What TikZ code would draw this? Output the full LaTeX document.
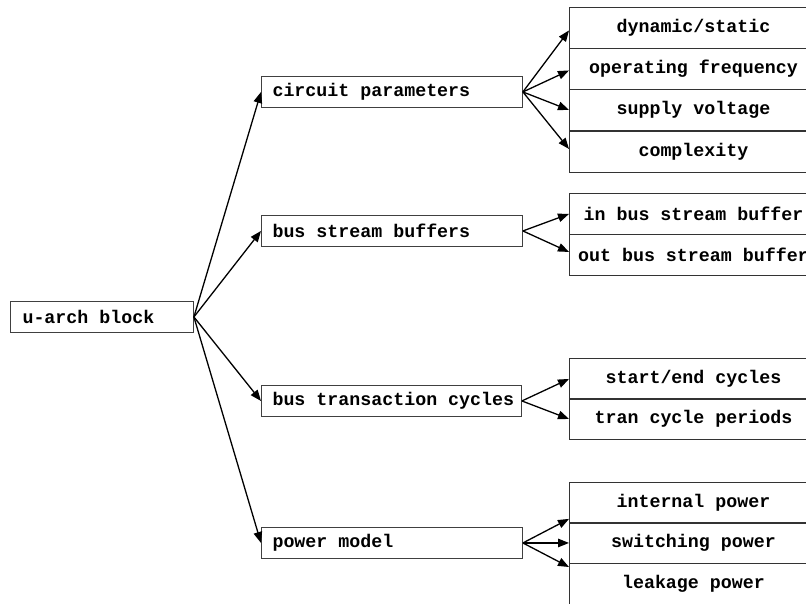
\documentclass[tikz,border=0pt]{standalone}
\usepackage{fontspec}
\setmonofont{Liberation Mono}
\usetikzlibrary{arrows.meta,calc}

\tikzset{
  x=1pt, y=-1pt,
  label font/.style={font=\fontsize{18.3}{20}\selectfont\ttfamily\bfseries},
  leftbox/.style={draw=black!75, line width=0.9pt, anchor=north west,
    minimum height=31pt, inner sep=0pt},
  cell/.style={draw=black!80, line width=0.9pt, label font, anchor=north west,
    minimum width=248pt, minimum height=41pt, inner sep=0pt},
  link/.style={line width=1.3pt, -{Triangle[length=11pt,width=8.5pt]}},
}

\begin{document}
\begin{tikzpicture}
  \clip (0,0) rectangle (806,603);

  % root
  \node[leftbox, minimum width=183pt] (root) at (10,301) {};
  \node[label font, anchor=west] (rootlbl) at ($(root.west)+(9pt,0)$) {u-arch block};

  % second level
  \node[leftbox, minimum width=261pt] (cp)  at (261,76)  {};
  \node[label font, anchor=west] (cplbl) at ($(cp.west)+(8pt,0)$) {circuit parameters};
  \node[leftbox, minimum width=261pt] (bsb) at (261,215) {};
  \node[label font, anchor=west] (bsblbl) at ($(bsb.west)+(8pt,0)$) {bus stream buffers};
  \node[leftbox, minimum width=260pt] (btc) at (261,385) {};
  \node[label font, anchor=west] (btclbl) at ($(btc.west)+(8pt,0)$) {bus transaction cycles};
  \node[leftbox, minimum width=261pt] (pm)  at (261,527) {};
  \node[label font, anchor=west] (pmlbl) at ($(pm.west)+(8pt,0)$) {power model};

  % circuit parameter cells
  \node[cell] (ds) at (569,7)   {dynamic/static};
  \node[cell] (of) at (569,48)  {operating frequency};
  \node[cell] (sv) at (569,89)  {supply voltage};
  \node[cell] (cx) at (569,131) {complexity};

  % bus stream buffer cells
  \node[cell] (ib) at (569,193) {in bus stream buffer};
  \node[cell] (ob) at (569,234) {out bus stream buffer};

  % bus transaction cells
  \node[cell] (se) at (569,358) {start/end cycles};
  \node[cell] (tc) at (569,398) {tran cycle periods};

  % power model cells
  \node[cell] (ip) at (569,482) {internal power};
  \node[cell] (sw) at (569,522) {switching power};
  \node[cell] (lk) at (569,563) {leakage power};

  % root fan-out
  \draw[link] (root.east) -- (cp.west);
  \draw[link] (root.east) -- (bsb.west);
  \draw[link] (root.east) -- (btc.west);
  \draw[link] (root.east) -- (pm.west);

  % second level fan-out
  \draw[link] (cp.east) -- ($(ds.west)+(0,-2.5pt)$);
  \draw[link] (cp.east) -- ($(of.west)+(0,-1.5pt)$);
  \draw[link] (cp.east) -- (sv.west);
  \draw[link] (cp.east) -- ($(cx.west)+(0,3pt)$);

  \draw[link] (bsb.east) -- (ib.west);
  \draw[link] (bsb.east) -- ($(ob.west)+(0,3pt)$);

  \draw[link] (btc.east) -- (se.west);
  \draw[link] (btc.east) -- (tc.west);

  \draw[link] (pm.east) -- ($(ip.south west)+(0,5pt)$);
  \draw[link] (pm.east) -- (sw.west);
  \draw[link] (pm.east) -- ($(lk.north west)+(0,-4pt)$);
\end{tikzpicture}
\end{document}
